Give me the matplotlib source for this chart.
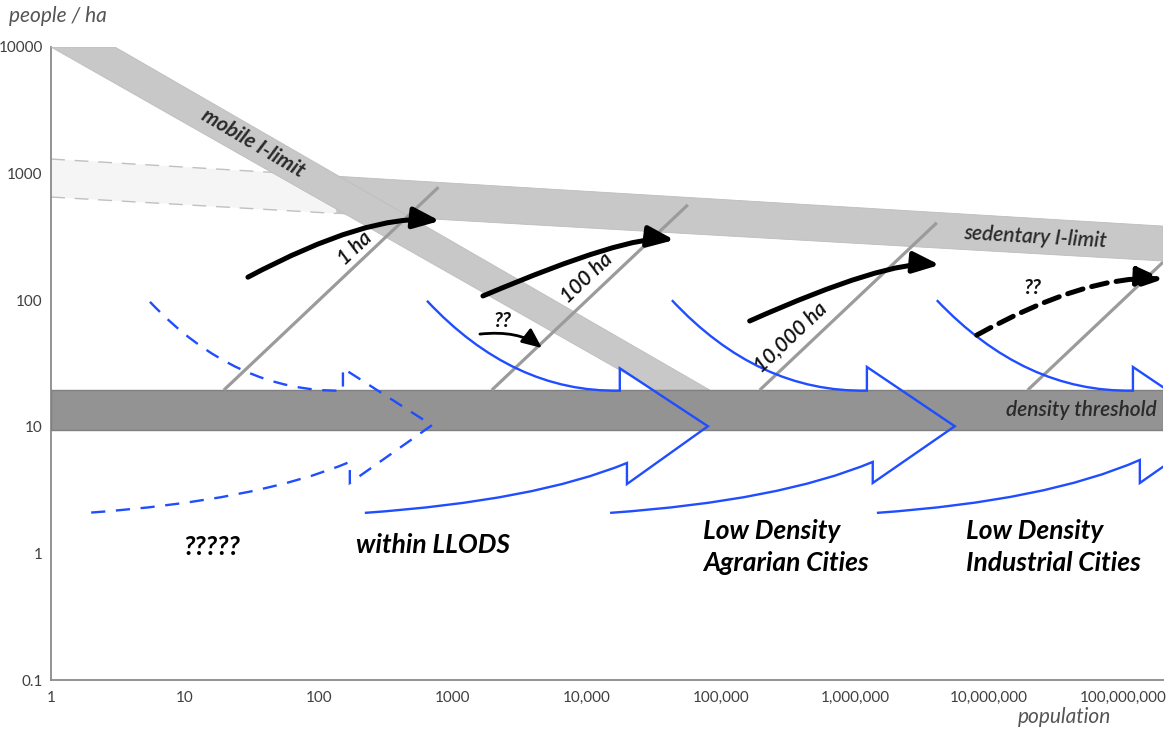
import matplotlib
matplotlib.use("Agg")
import matplotlib.pyplot as plt
import numpy as np
from matplotlib.path import Path
from matplotlib.patches import PathPatch, Polygon

plt.rcParams['font.family'] = ['Lato', 'DejaVu Sans']

# axis ticks
x_ticks = [1, 10, 100, 1e3, 1e4, 1e5, 1e6, 1e7, 1e8]
x_tick_labels = ["1", "10", "100", "1000", "10,000", "100,000",
                 "1,000,000", "10,000,000", "100,000,000"]
y_ticks = [0.1, 1, 10, 100, 1000, 10000]
y_tick_labels = ["0.1", "1", "10", "100", "1000", "10000"]

# mobile I-limit band, corners as (population, people/ha)
mobile_pop = [1, 3.0, 82800, 32200]
mobile_dens = [10000, 10000, 19.5, 19.5]

# sedentary I-limit band (light dashed part left of 136, solid to the right)
sed_pop = [1, 136, 2.0e8]
sed_top = [1303, 953, 385]
sed_bottom = [653, 484, 204]

# density threshold band
thr_low, thr_high = 9.5, 19.5

# settlement area lines: density = population / area
area_ha = [1, 100, 1e4, 1e6]
area_pop_start = [19.5, 1950, 195000, 1.95e7]
area_pop_end = [780, 56700, 4.09e6, 2.0e8]
area_labels = ["1 ha", "100 ha", "10,000 ha"]
area_label_pop = [186, 10000, 327000]
area_label_dens = [258, 150, 51]

# growth arrows (start -> tip), with start / end angles
arrow_start_pop = [29.5, 1675, 164000, 8.13e6]
arrow_start_dens = [152, 108, 68.5, 53]
arrow_tip_pop = [800, 45000, 4.3e6, 2.02e8]
arrow_tip_dens = [423, 299, 190, 147]
arrow_angle_a = [28, 23, 24, 29]
arrow_angle_b = [-6, -7, -5, -3]
arrow_dashed = [False, False, False, True]

# small "??" arrow
q_start = (1590, 54)
q_tip = (4620, 41.9)

# blue chevrons: upper curve start, control, notch base, notch top, tip,
# lower notch base, lower notch top, control, lower curve end
chev_pop = [
    [5.48, 24.0, 151, 151, 697, 170, 170, 34.5, 1.86],
    [640, 2800, 17600, 17600, 80000, 19900, 19900, 4090, 220],
    [43100, 190000, 1.23e6, 1.23e6, 5.57e6, 1.36e6, 1.36e6, 275000, 14900],
    [4.09e6, 1.85e7, 1.19e8, 1.19e8, 5.4e8, 1.34e8, 1.34e8, 2.71e7, 1.46e6],
]
chev_dens = [
    [97, 18.6, 19.3, 29, 10.3, 3.6, 5.28, 2.6, 2.09],
    [99, 18.6, 19.3, 29, 10.1, 3.53, 5.18, 2.6, 2.09],
    [100, 18.6, 19.3, 29.7, 10.1, 3.6, 5.28, 2.6, 2.09],
    [100, 18.6, 19.3, 29.7, 10.1, 3.6, 5.47, 2.6, 2.09],
]
chev_dashed = [True, False, False, False]
chev_codes = [Path.MOVETO, Path.CURVE3, Path.CURVE3, Path.LINETO, Path.LINETO,
              Path.LINETO, Path.LINETO, Path.CURVE3, Path.CURVE3]

# regime labels
regime_labels = ["?????", "within LLODS", "Low Density\nAgrarian Cities",
                 "Low Density\nIndustrial Cities"]
regime_pop = [15.9, 710, 73400, 6.73e6]
regime_dens = [1.12, 1.16, 1.12, 1.12]
regime_ha = ["center", "center", "left", "left"]

grey_band = "#c8c8c8"
blue = "#1f4dff"
txt = "#2a2a2a"

fig = plt.figure(figsize=(11.7, 7.31), dpi=100)
ax = fig.add_axes([51 / 1170, 51 / 731, 1112 / 1170, 633 / 731])
ax.set_xscale("log")
ax.set_yscale("log")
ax.set_xlim(1, 10 ** 8.3)
ax.set_ylim(0.1, 10000)

# light extension of the sedentary band
light = [(sed_pop[0], sed_top[0]), (sed_pop[1], sed_top[1]),
         (sed_pop[1], sed_bottom[1]), (sed_pop[0], sed_bottom[0])]
ax.add_patch(Polygon(light, closed=True, facecolor="#f5f5f5", edgecolor="none", zorder=1))
ax.plot(sed_pop[:2], sed_top[:2], color="#c0c0c0", lw=1, dashes=(10, 7), zorder=1.5)
ax.plot(sed_pop[:2], sed_bottom[:2], color="#c0c0c0", lw=1, dashes=(10, 7), zorder=1.5)

# solid sedentary band
solid = [(sed_pop[1], sed_top[1]), (sed_pop[2], sed_top[2]),
         (sed_pop[2], sed_bottom[2]), (sed_pop[1], sed_bottom[1])]
ax.add_patch(Polygon(solid, closed=True, facecolor=grey_band, edgecolor="#bdbdbd",
                     lw=0.6, zorder=2))

# mobile band
ax.add_patch(Polygon(list(zip(mobile_pop, mobile_dens)), closed=True,
                     facecolor=grey_band, edgecolor="#bdbdbd", lw=0.6, zorder=3))

# density threshold
ax.axhspan(thr_low, thr_high, facecolor="#939393", edgecolor="#808080", lw=1, zorder=4)

# area lines
for a, p0, p1 in zip(area_ha, area_pop_start, area_pop_end):
    ax.plot([p0, p1], [p0 / a, p1 / a], color="#9b9b9b", lw=2.3,
            solid_capstyle="butt", zorder=5)
for lab, px, py in zip(area_labels, area_label_pop, area_label_dens):
    ax.text(px, py, lab, rotation=43.4, ha="center", va="center", fontsize=15,
            style="italic", fontweight="semibold", color="#111111", zorder=9)

# blue chevrons
for xs, ys, dsh in zip(chev_pop, chev_dens, chev_dashed):
    path = Path(np.column_stack([xs, ys]), chev_codes)
    patch = PathPatch(path, facecolor="none", edgecolor=blue, lw=1.7, zorder=6,
                      joinstyle="miter")
    if dsh:
        patch.set_linestyle((0, (6, 4.5)))
    ax.add_patch(patch)

# black growth arrows
for sx, sy, tx, ty, aa, ab, dsh in zip(arrow_start_pop, arrow_start_dens,
                                        arrow_tip_pop, arrow_tip_dens,
                                        arrow_angle_a, arrow_angle_b, arrow_dashed):
    ax.annotate("", xy=(tx, ty), xytext=(sx, sy), annotation_clip=False,
                arrowprops=dict(arrowstyle="-|>,head_length=0.8,head_width=0.32",
                                mutation_scale=20, lw=3.6, color="black",
                                linestyle=(0, (3.2, 1.8)) if dsh else "-",
                                shrinkA=0, shrinkB=0,
                                connectionstyle=f"angle3,angleA={aa},angleB={ab}"),
                zorder=7)
ax.annotate("", xy=q_tip, xytext=q_start,
            arrowprops=dict(arrowstyle="-|>,head_length=0.8,head_width=0.35",
                            mutation_scale=15, lw=2, color="black",
                            shrinkA=0, shrinkB=0,
                            connectionstyle="angle3,angleA=6,angleB=-38"),
            zorder=7)
ax.text(2360, 68.5, "??", ha="center", va="center", fontsize=15, style="italic",
        fontweight="bold", color="#111111", zorder=9)
ax.text(2.13e7, 125, "??", ha="center", va="center", fontsize=15, style="italic",
        fontweight="bold", color="#111111", zorder=9)

# band labels
ax.text(32.2, 1746, "mobile I-limit", rotation=-30.5, ha="center", va="center",
        fontsize=15, style="italic", fontweight="bold", color=txt, zorder=9)
ax.text(2.2e7, 316, "sedentary I-limit", rotation=-3.3, ha="center", va="center",
        fontsize=15, style="italic", fontweight="semibold", color=txt, zorder=9)
ax.text(1.79e8, 13.6, "density threshold", ha="right", va="center",
        fontsize=15, style="italic", fontweight="semibold", color=txt, zorder=9)

# regime labels
for lab, px, py, ha in zip(regime_labels, regime_pop, regime_dens, regime_ha):
    ax.text(px, py, lab, ha=ha, va="center", fontsize=19, style="italic",
            fontweight="bold", color="black", linespacing=1.4, zorder=9)

# axes styling
ax.set_xticks(x_ticks)
ax.set_xticklabels(x_tick_labels)
ax.set_yticks(y_ticks)
ax.set_yticklabels(y_tick_labels)
ax.minorticks_off()
ax.tick_params(length=0, labelsize=11, labelcolor="#404040")
ax.tick_params(axis="x", pad=8)
ax.tick_params(axis="y", pad=6)
for s in ["top", "right"]:
    ax.spines[s].set_visible(False)
for s in ["left", "bottom"]:
    ax.spines[s].set_color("#8a8a8a")
    ax.spines[s].set_linewidth(1.3)

fig.text(9 / 1170, 1 - 16 / 731, "people / ha", ha="left", va="center",
         fontsize=15, style="italic", color="#555555")
fig.text(1065 / 1170, 1 - 717 / 731, "population", ha="center", va="center",
         fontsize=15, style="italic", color="#555555")

fig.savefig("out.png", dpi=100)
